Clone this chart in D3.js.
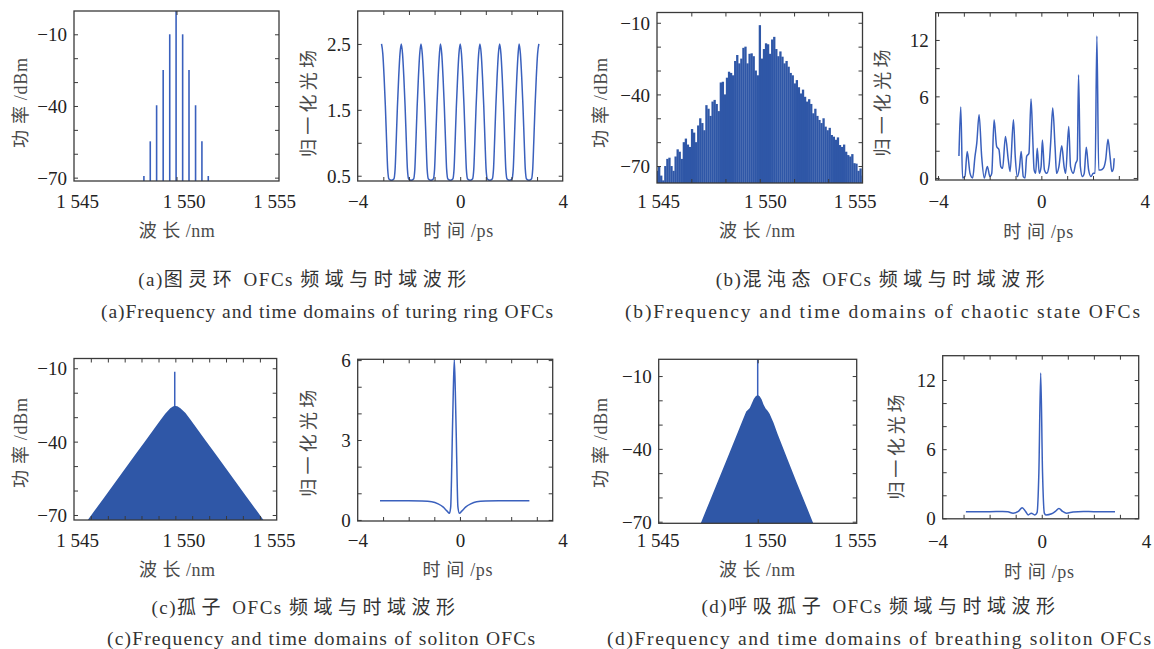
<!DOCTYPE html>
<html><head><meta charset="utf-8">
<script src="https://cdn.jsdelivr.net/npm/d3@7"></script>
<style>body{margin:0;background:#fff}svg{display:block}</style>
</head><body><svg id="c" width="1154" height="649"></svg>
<script>
// ---------- tick labels ----------
const wlTicks = [1545, 1550, 1555];
const dbTicks = [-70, -40, -10];
const dbMinor = [-60, -50, -30, -20];
const timeTicks = [-4, 0, 4];
const timeMinor = [-3, -2, -1, 1, 2, 3];
const turingFieldTicks = [0.5, 1.5, 2.5];
const turingFieldMinor = [1.0, 2.0];
const chaosFieldTicks = [0, 6, 12];
const chaosFieldMinor = [2, 4, 9];
const solitonFieldTicks = [0, 3, 6];
const solitonFieldMinor = [1, 2, 4, 5];
const breathFieldTicks = [0, 6, 12];
const breathFieldMinor = [2, 4, 8, 10];
const chaosWlMinor = [1546.67, 1548.33, 1551.67, 1553.33];
const solitonWlMinor = [1545.83, 1546.67, 1547.5, 1548.33, 1549.17, 1550.83, 1551.67, 1552.5, 1553.33, 1554.17];

// ---------- texts ----------
const wlTitle = "波 长 /nm";
const powerTitle = "功 率 /dBm";
const timeTitle = "时 间 /ps";
const fieldTitle = "归 一 化 光 场";
const captionsCN = ["(a)图灵环 OFCs 频域与时域波形", "(b)混沌态 OFCs 频域与时域波形", "(c)孤子 OFCs 频域与时域波形", "(d)呼吸孤子 OFCs 频域与时域波形"];
const captionsEN = ["(a)Frequency and time domains of turing ring OFCs", "(b)Frequency and time domains of chaotic state OFCs", "(c)Frequency and time domains of soliton OFCs", "(d)Frequency and time domains of breathing soliton OFCs"];

// ---------- (a) Turing ring ----------
const turingSpectrum = [[1548.41,-69.3],[1548.72,-54.8],[1549.03,-39.7],[1549.35,-24.9],[1549.67,-10],[1549.98,0],[1550.30,-10],[1550.61,-24.9],[1550.93,-39.7],[1551.24,-54.8],[1551.55,-69.3]];
const turingField = [
[-3.07,2.5],[-3.02,2.35],[-2.97,2.0],[-2.92,1.55],[-2.87,1.0],[-2.83,0.6],[-2.78,0.45],[-2.685,0.43],[-2.59,0.45],[-2.54,0.6],[-2.50,1.0],[-2.45,1.55],[-2.40,2.0],[-2.35,2.35],
[-2.30,2.5],[-2.25,2.35],[-2.20,2.0],[-2.15,1.55],[-2.10,1.0],[-2.06,0.6],[-2.01,0.45],[-1.915,0.43],[-1.82,0.45],[-1.77,0.6],[-1.73,1.0],[-1.68,1.55],[-1.63,2.0],[-1.58,2.35],
[-1.53,2.5],[-1.48,2.35],[-1.43,2.0],[-1.38,1.55],[-1.33,1.0],[-1.29,0.6],[-1.24,0.45],[-1.145,0.43],[-1.05,0.45],[-1.00,0.6],[-0.96,1.0],[-0.91,1.55],[-0.86,2.0],[-0.81,2.35],
[-0.77,2.5],[-0.72,2.35],[-0.67,2.0],[-0.62,1.55],[-0.57,1.0],[-0.53,0.6],[-0.48,0.45],[-0.385,0.43],[-0.29,0.45],[-0.24,0.6],[-0.20,1.0],[-0.15,1.55],[-0.10,2.0],[-0.05,2.35],
[0,2.5],[0.05,2.35],[0.10,2.0],[0.15,1.55],[0.20,1.0],[0.24,0.6],[0.29,0.45],[0.385,0.43],[0.48,0.45],[0.53,0.6],[0.57,1.0],[0.62,1.55],[0.67,2.0],[0.72,2.35],
[0.77,2.5],[0.82,2.35],[0.87,2.0],[0.92,1.55],[0.97,1.0],[1.01,0.6],[1.06,0.45],[1.155,0.43],[1.25,0.45],[1.30,0.6],[1.34,1.0],[1.39,1.55],[1.44,2.0],[1.49,2.35],
[1.54,2.5],[1.59,2.35],[1.64,2.0],[1.69,1.55],[1.74,1.0],[1.78,0.6],[1.83,0.45],[1.925,0.43],[2.02,0.45],[2.07,0.6],[2.11,1.0],[2.16,1.55],[2.21,2.0],[2.26,2.35],
[2.30,2.5],[2.35,2.35],[2.40,2.0],[2.45,1.55],[2.50,1.0],[2.54,0.6],[2.59,0.45],[2.685,0.43],[2.78,0.45],[2.83,0.6],[2.87,1.0],[2.92,1.55],[2.97,2.0],[3.02,2.35],
[3.07,2.5]];

// ---------- (b) chaotic state ----------
const chaosSpectrum = [
[1545.0,-72],[1545.1,-70],[1545.2,-74],[1545.3,-76],[1545.4,-70],[1545.5,-67],[1545.6,-66.5],[1545.7,-70],[1545.8,-72],[1545.9,-66],
[1546.0,-63],[1546.1,-64],[1546.2,-67],[1546.3,-60],[1546.4,-58.5],[1546.5,-61],[1546.6,-62],[1546.7,-54.5],[1546.8,-56],[1546.9,-60],
[1547.0,-53],[1547.1,-50],[1547.2,-52],[1547.3,-55],[1547.4,-44.5],[1547.5,-46],[1547.6,-49],[1547.7,-43],[1547.8,-42.3],[1547.9,-44],
[1548.0,-47],[1548.1,-35],[1548.2,-34.7],[1548.3,-40],[1548.4,-33],[1548.5,-30.5],[1548.6,-31],[1548.7,-32],[1548.8,-26],[1548.9,-23.5],
[1549.0,-27],[1549.1,-25],[1549.2,-20.5],[1549.3,-20],[1549.4,-27],[1549.5,-23],[1549.6,-22.8],[1549.7,-24],[1549.8,-30],[1549.9,-32],
[1550.0,-11],[1550.1,-25],[1550.2,-21],[1550.3,-18.6],[1550.4,-19],[1550.5,-23],[1550.6,-17],[1550.7,-15.9],[1550.8,-21],[1550.9,-24],
[1551.0,-22],[1551.1,-24.2],[1551.2,-27],[1551.3,-26],[1551.4,-28.4],[1551.5,-31],[1551.6,-32],[1551.7,-35.4],[1551.8,-34],[1551.9,-37],
[1552.0,-39.6],[1552.1,-38],[1552.2,-41],[1552.3,-43],[1552.4,-42],[1552.5,-44],[1552.6,-47.9],[1552.7,-46],[1552.8,-49],[1552.9,-50.7],
[1553.0,-52],[1553.1,-50],[1553.2,-53.5],[1553.3,-55],[1553.4,-54],[1553.5,-57],[1553.6,-57.7],[1553.7,-59],[1553.8,-58],[1553.9,-61.2],
[1554.0,-62],[1554.1,-61],[1554.2,-64],[1554.3,-65.4],[1554.4,-66],[1554.5,-65],[1554.6,-68.8],[1554.7,-69],[1554.8,-72],[1554.9,-71],
[1555.0,-74]];
const chaosField = [
[-3.19,1.62],[-3.12,5.22],[-3.05,0],[-2.96,0.10],[-2.87,1.94],[-2.76,0.34],[-2.66,0],[-2.57,1.57],[-2.50,2.56],[-2.41,4.65],
[-2.31,1.57],[-2.21,0],[-2.09,0.84],[-1.99,0.10],[-1.92,0.34],[-1.83,4.28],[-1.73,2.31],[-1.64,2.07],[-1.57,0.84],[-1.50,0.71],
[-1.39,3.05],[-1.28,1.33],[-1.21,0.47],[-1.08,4.28],[-1.01,1.57],[-0.93,0.10],[-0.85,0.71],[-0.78,1.94],[-0.70,0.10],[-0.63,0],
[-0.57,1.57],[-0.48,1.82],[-0.40,5.81],[-0.34,3.30],[-0.28,0.59],[-0.22,0.34],[-0.16,2.19],[-0.08,0.34],[-0.01,0.84],[0.04,2.80],
[0.12,0.59],[0.21,0.34],[0.30,0.96],[0.36,2.56],[0.44,5.14],[0.53,2.31],[0.59,0.34],[0.68,0.84],[0.79,2.36],[0.88,0.84],
[0.94,0.34],[1.06,3.79],[1.13,0.84],[1.24,0.34],[1.33,1.08],[1.39,1.33],[1.44,8.30],[1.51,0.84],[1.59,0.10],[1.66,0.34],
[1.74,2.26],[1.83,0.59],[1.92,0.10],[2.01,0.34],[2.08,0.34],[2.15,12.42],[2.22,0.59],[2.30,0.59],[2.40,0.71],[2.49,1.33],
[2.58,2.85],[2.66,1.57],[2.73,0.47],[2.79,0.71],[2.82,1.45]];

// ---------- (c) soliton ----------
const solitonSpectrum = [[1545.0,-82],[1545.5,-74.1],[1546.0,-68.4],[1546.5,-62.7],[1547.0,-57.0],[1547.5,-51.3],[1548.0,-45.6],[1548.5,-39.9],[1549.0,-34.2],[1549.25,-31.4],[1549.5,-28.6],[1549.75,-26.3],[1549.9,-25.5],[1550.0,-25.4],[1550.1,-25.5],[1550.25,-26.3],[1550.5,-28.3],[1550.75,-31.0],[1551.0,-33.9],[1551.5,-39.6],[1552.0,-45.3],[1552.5,-51.0],[1553.0,-56.7],[1553.5,-62.4],[1554.0,-68.1],[1554.5,-73.8],[1555.0,-79.5]];
const solitonPump = [1549.97, -11.4];
const solitonField = [[-3.12,0.72],[-2.0,0.72],[-1.5,0.71],[-1.1,0.68],[-0.85,0.6],[-0.65,0.48],[-0.5,0.33],[-0.41,0.25],[-0.36,0.5],[-0.33,1.5],[-0.30,3.0],[-0.26,4.8],[-0.22,6.0],[-0.18,4.8],[-0.14,3.0],[-0.11,1.5],[-0.08,0.5],[-0.02,0.25],[0.07,0.33],[0.22,0.48],[0.42,0.6],[0.65,0.68],[1.0,0.71],[1.5,0.72],[2.71,0.72]];

// ---------- (d) breathing soliton ----------
const breathSpectrum = [[1546.8,-77],[1547.12,-70.7],[1547.5,-63.1],[1548.0,-53.1],[1548.5,-43.1],[1549.0,-33.1],[1549.3,-27.0],[1549.42,-24.6],[1549.5,-24.0],[1549.6,-23.2],[1549.7,-21.3],[1549.8,-19.5],[1549.9,-18.3],[1550.0,-17.8],[1550.1,-18.3],[1550.2,-19.7],[1550.3,-21.8],[1550.4,-23.4],[1550.5,-24.3],[1550.6,-25.5],[1550.8,-29.2],[1551.0,-33.8],[1551.5,-44.2],[1552.0,-54.5],[1552.5,-64.5],[1552.81,-70.7],[1553.1,-77]];
const breathPump = [1550.0, 0];
const breathField = [[-2.91,0.58],[-2.0,0.58],[-1.5,0.6],[-1.3,0.57],[-1.1,0.45],[-0.9,0.6],[-0.75,0.92],[-0.62,0.6],[-0.52,0.3],[-0.4,0.45],[-0.27,0.3],[-0.18,0.5],[-0.11,4.0],[-0.04,12.6],[0.03,4.0],[0.1,0.45],[0.16,0.3],[0.38,0.4],[0.52,0.6],[0.66,0.85],[0.8,0.6],[0.95,0.45],[1.2,0.55],[1.6,0.6],[2.0,0.58],[2.81,0.58]];

// ---------- styles ----------
const FONT_NUM = "'Liberation Serif','Times New Roman',serif";
const FONT_TXT = "'Liberation Serif','Noto Sans CJK SC',serif";
const LINE_BLUE = "#3a60bd";
const FILL_BLUE = "#2f57a7";
const FRAME = "#3a3a3a";

const fmtWl = d => "1 " + String(d).slice(1);
const fmtNeg = d => d < 0 ? "\u2212" + Math.abs(d) : String(d);
const fmt1 = d3.format(".1f");

const panels = [
 {id:"a1", kind:"comb", data:turingSpectrum, frame:[74,11,279,181], xDomain:[1545,1555], yDomain:[-71.4,-0.25],
  xLabels:wlTicks, xFmt:fmtWl, xMinor:[], yLabels:dbTicks, yFmt:fmtNeg, yMinor:dbMinor, labelY:201.5, xNudge:[3,7,-5],
  xTitle:[176.7,231,76,wlTitle], yTitle:[20.7,103,90,powerTitle]},
 {id:"a2", kind:"line", data:turingField, frame:[357.7,11,562.7,181], xDomain:[-4,4], yDomain:[0.42,3.0],
  xLabels:timeTicks, xFmt:fmtNeg, xMinor:timeMinor, yLabels:turingFieldTicks, yFmt:fmt1, yMinor:turingFieldMinor, labelY:201.5,
  xTitle:[458.3,231,70,timeTitle], yTitle:[309,103.5,107,fieldTitle]},
 {id:"b1", kind:"bars", data:chaosSpectrum, frame:[657,12.5,862.5,183], xDomain:[1545,1555], yDomain:[-77.1,-5.7],
  xLabels:wlTicks, xFmt:fmtWl, xMinor:chaosWlMinor, yLabels:dbTicks, yFmt:fmtNeg, yMinor:dbMinor, labelY:201.5, xNudge:[1,5,-8],
  xTitle:[757,231,76,wlTitle], yTitle:[600.7,103,90,powerTitle]},
 {id:"b2", kind:"line", data:chaosField, frame:[935.7,12.7,1137.7,180], xDomain:[-4.09,3.73], yDomain:[-0.15,6,14.9],
  xLabels:timeTicks, xFmt:fmtNeg, xMinor:timeMinor, yLabels:chaosFieldTicks, yFmt:fmtNeg, yMinor:chaosFieldMinor, labelY:201.5,
  xTitle:[1038.3,231.5,70,timeTitle], yTitle:[883,103,107,fieldTitle]},
 {id:"c1", kind:"area", data:solitonSpectrum, pump:solitonPump, frame:[74,358.5,276.7,520], xDomain:[1545,1555], yDomain:[-72.05,-6.0],
  xLabels:wlTicks, xFmt:fmtWl, xMinor:solitonWlMinor, yLabels:dbTicks, yFmt:fmtNeg, yMinor:dbMinor, labelY:540, xNudge:[3,8,-3],
  xTitle:[177,570,76,wlTitle], yTitle:[20.7,443,90,powerTitle]},
 {id:"c2", kind:"line", data:solitonField, frame:[357.7,359.3,552.7,521], xDomain:[-3.99,3.62], yDomain:[-0.04,6.03],
  xLabels:timeTicks, xFmt:fmtNeg, xMinor:timeMinor, yLabels:solitonFieldTicks, yFmt:fmtNeg, yMinor:solitonFieldMinor, labelY:540,
  xTitle:[457.5,570,70,timeTitle], yTitle:[309.3,443.3,107,fieldTitle]},
 {id:"d1", kind:"area", data:breathSpectrum, pump:breathPump, frame:[658.7,359.3,856.7,523.3], xDomain:[1545,1555], yDomain:[-70.66,-3.1],
  xLabels:wlTicks, xFmt:fmtWl, xMinor:[], yLabels:dbTicks, yFmt:fmtNeg, yMinor:dbMinor, labelY:540, xNudge:[-1,7,-2],
  xTitle:[757,570,76,wlTitle], yTitle:[600.7,443,90,powerTitle]},
 {id:"d2", kind:"line", data:breathField, frame:[942.7,355.7,1138.7,518.8], xDomain:[-3.8,3.72], yDomain:[-0.04,14.11],
  xLabels:timeTicks, xFmt:fmtNeg, xMinor:timeMinor, yLabels:breathFieldTicks, yFmt:fmtNeg, yMinor:breathFieldMinor, labelY:541,
  xTitle:[1039,571.7,70,timeTitle], yTitle:[896.7,447,105,fieldTitle]}
];

// caption layout: [centre x, centre y, (EN only) length]
const captionLayout = [
 [[305,279],[327,311,452]],
 [[883,279],[882.5,311,515]],
 [[306,607],[321,638,428]],
 [[881,606],[879,638,544]]
];

const svg = d3.select("#c");
const defs = svg.append("defs");

function drawPanel(p) {
  const [L,T,R,B] = p.frame;
  const x = d3.scaleLinear().domain(p.xDomain).range([L,R]);
  const y = d3.scaleLinear().domain(p.yDomain).range(p.yDomain.length === 3 ? [B,(B+T)/2,T] : [B,T]);
  const g = svg.append("g");
  const clipId = "clip-" + p.id;
  defs.append("clipPath").attr("id", clipId).append("rect")
    .attr("x", L).attr("y", T).attr("width", R-L).attr("height", B-T);
  const plot = g.append("g").attr("clip-path", `url(#${clipId})`);
  const base = y(p.yDomain[0]);

  if (p.kind === "comb") {
    plot.selectAll("line").data(p.data).join("line")
      .attr("x1", d => x(d[0])).attr("x2", d => x(d[0]))
      .attr("y1", base).attr("y2", d => y(d[1]))
      .attr("stroke", LINE_BLUE).attr("stroke-width", 1.6);
  } else if (p.kind === "bars") {
    const w = x(p.data[1][0]) - x(p.data[0][0]);
    plot.selectAll("rect").data(p.data).join("rect")
      .attr("x", d => x(d[0]) - w/2).attr("width", w + 0.25)
      .attr("y", d => Math.min(base, y(d[1])))
      .attr("height", d => Math.max(0, base - y(d[1])))
      .attr("fill", FILL_BLUE);
  } else if (p.kind === "area") {
    plot.append("line")
      .attr("x1", x(p.pump[0])).attr("x2", x(p.pump[0]))
      .attr("y1", base).attr("y2", y(p.pump[1]))
      .attr("stroke", LINE_BLUE).attr("stroke-width", 1.5);
    plot.append("path").datum(p.data)
      .attr("d", d3.area().x(d => x(d[0])).y0(base).y1(d => y(d[1])))
      .attr("fill", FILL_BLUE);
  } else {
    plot.append("path").datum(p.data)
      .attr("d", d3.line().curve(d3.curveMonotoneX).x(d => x(d[0])).y(d => y(d[1])))
      .attr("fill", "none").attr("stroke", LINE_BLUE).attr("stroke-width", 1.5)
      .attr("stroke-linejoin", "round");
  }

  // inner ticks on all four sides
  const xmin = Math.min(...p.xDomain), xmax = Math.max(...p.xDomain);
  const ymin = p.yDomain[0], ymax = p.yDomain[p.yDomain.length-1];
  const xt = [...p.xLabels, ...p.xMinor].filter(v => v > xmin + 0.05 && v < xmax - 0.05);
  const yt = [...p.yLabels, ...p.yMinor].filter(v => v > ymin + 0.01 && v < ymax - 0.01);
  const noFmt = () => "";
  const tickG = g.append("g").attr("color", FRAME);
  tickG.append("g").attr("transform", `translate(0,${B})`).call(d3.axisBottom(x).tickValues(xt).tickSize(-4).tickFormat(noFmt));
  tickG.append("g").attr("transform", `translate(0,${T})`).call(d3.axisTop(x).tickValues(xt).tickSize(-4).tickFormat(noFmt));
  tickG.append("g").attr("transform", `translate(${L},0)`).call(d3.axisLeft(y).tickValues(yt).tickSize(-4).tickFormat(noFmt));
  tickG.append("g").attr("transform", `translate(${R},0)`).call(d3.axisRight(y).tickValues(yt).tickSize(-4).tickFormat(noFmt));
  tickG.selectAll(".domain").remove();
  tickG.selectAll("line").attr("stroke-width", 1);

  // frame
  g.append("rect").attr("x", L).attr("y", T).attr("width", R-L).attr("height", B-T)
    .attr("fill", "none").attr("stroke", FRAME).attr("stroke-width", 1.3);

  // tick labels
  const xl = g.append("g").attr("transform", `translate(0,${p.labelY})`)
    .call(d3.axisBottom(x).tickValues(p.xLabels).tickSize(0).tickPadding(0).tickFormat(p.xFmt));
  xl.select(".domain").remove();
  xl.attr("font-family", FONT_NUM).attr("font-size", 19).attr("color", "#222");
  xl.selectAll("text").attr("y", 0).attr("dy", "0.35em")
    .attr("dx", (d,i) => p.xNudge ? p.xNudge[i] : 0);

  const yl = g.append("g").attr("transform", `translate(${L},0)`)
    .call(d3.axisLeft(y).tickValues(p.yLabels).tickSize(0).tickPadding(7).tickFormat(p.yFmt));
  yl.select(".domain").remove();
  yl.attr("font-family", FONT_NUM).attr("font-size", 19).attr("color", "#222");
  yl.selectAll("text").attr("dy", "0.35em");

  // axis titles
  g.append("text").attr("x", p.xTitle[0]).attr("y", p.xTitle[1])
    .attr("text-anchor", "middle").attr("dominant-baseline", "central")
    .attr("font-family", FONT_TXT).attr("font-size", 18).attr("fill", "#4a4a4a")
    .attr("textLength", p.xTitle[2]).attr("lengthAdjust", "spacing")
    .text(p.xTitle[3]);
  g.append("text").attr("transform", `translate(${p.yTitle[0]},${p.yTitle[1]}) rotate(-90)`)
    .attr("text-anchor", "middle").attr("dominant-baseline", "central")
    .attr("font-family", FONT_TXT).attr("font-size", 18).attr("fill", "#4a4a4a")
    .attr("textLength", p.yTitle[2]).attr("lengthAdjust", "spacing")
    .text(p.yTitle[3]);
}

panels.forEach(drawPanel);

// captions: Chinese line with letter-spaced CJK runs, English line stretched to the reference length
const CJK = /[\u3000-\u9fff\uff00-\uffef]+|[^\u3000-\u9fff\uff00-\uffef]+/g;
captionLayout.forEach((pair, i) => {
  const cn = svg.append("text").attr("x", pair[0][0]).attr("y", pair[0][1])
    .attr("text-anchor", "middle").attr("dominant-baseline", "central")
    .attr("font-family", FONT_TXT).attr("font-size", 19).attr("fill", "#333");
  captionsCN[i].match(CJK).forEach(run => {
    const isCJK = /[\u3000-\u9fff]/.test(run);
    cn.append("tspan").attr("letter-spacing", isCJK ? 5.5 : 1.5).text(run);
  });
  svg.append("text").attr("x", pair[1][0]).attr("y", pair[1][1])
    .attr("text-anchor", "middle").attr("dominant-baseline", "central")
    .attr("font-family", FONT_TXT).attr("font-size", 19.5).attr("fill", "#333")
    .attr("textLength", pair[1][2]).attr("lengthAdjust", "spacing")
    .text(captionsEN[i]);
});
</script></body></html>
